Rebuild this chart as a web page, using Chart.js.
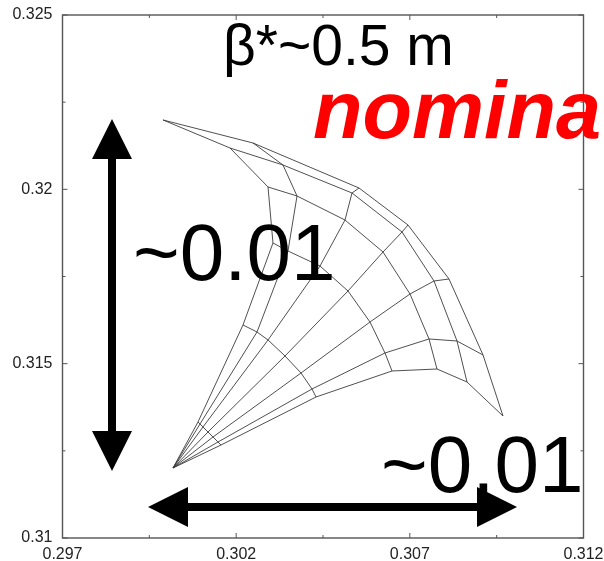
<!DOCTYPE html>
<html>
<head>
<meta charset="utf-8">
<style>html,body{margin:0;padding:0;background:#fff}canvas{display:block}</style>
<script src="https://cdn.jsdelivr.net/npm/chart.js@4"></script>
</head>
<body>
<canvas id="c" width="604" height="561"></canvas>
<script>
// Tick values and labels
const xTickValues = [0.297, 0.2995, 0.302, 0.3045, 0.307, 0.3095, 0.312];
const xTickLabels = ['0.297', '', '0.302', '', '0.307', '', '0.312'];
const yTickValues = [0.31, 0.3125, 0.315, 0.3175, 0.32, 0.3225, 0.325];
const yTickLabels = ['0.31', '', '0.315', '', '0.32', '', '0.325'];

// Mesh: each row is one ray from the common corner, each column one ring
const ray0X = [0.300181, 0.300901, 0.302197, 0.30306, 0.302917, 0.301822, 0.299893];
const ray0Y = [0.312008, 0.313327, 0.316109, 0.318461, 0.320067, 0.321186, 0.321989];
const ray1X = [0.300181, 0.300959, 0.3026, 0.303492, 0.303752, 0.303348, 0.302485];
const ray1Y = [0.312008, 0.31327, 0.315908, 0.318231, 0.319809, 0.320698, 0.321329];
const ray2X = [0.300181, 0.301045, 0.302917, 0.304414, 0.305133, 0.305335, 0.305537];
const ray2Y = [0.312008, 0.313184, 0.315679, 0.317801, 0.31912, 0.319895, 0.320038];
const ray3X = [0.300181, 0.301189, 0.303406, 0.30522, 0.306228, 0.306775, 0.306947];
const ray3Y = [0.312008, 0.31304, 0.31522, 0.317084, 0.318203, 0.318776, 0.318977];
const ray4X = [0.300181, 0.301333, 0.303867, 0.305853, 0.307005, 0.307696, 0.308128];
const ray4Y = [0.312008, 0.312897, 0.314732, 0.316195, 0.316998, 0.317371, 0.317428];
const ray5X = [0.300181, 0.301477, 0.304183, 0.306285, 0.307552, 0.308358, 0.309107];
const ray5Y = [0.312008, 0.312753, 0.314273, 0.315306, 0.315708, 0.31565, 0.315249];
const ray6X = [0.300181, 0.301563, 0.304299, 0.306487, 0.307782, 0.308646, 0.309682];
const ray6Y = [0.312008, 0.312667, 0.314044, 0.31479, 0.314847, 0.314474, 0.313499];

// Double arrows
const vArrowShaftX = [0.298425, 0.298425];
const vArrowShaftY = [0.32087, 0.313069];
const vHeadTopX = [0.298425, 0.297849, 0.299001, 0.298425];
const vHeadTopY = [0.322017, 0.32087, 0.32087, 0.322017];
const vHeadBottomX = [0.298425, 0.297849, 0.299001, 0.298425];
const vHeadBottomY = [0.311922, 0.313069, 0.313069, 0.311922];
const hArrowShaftX = [0.300613, 0.308934];
const hArrowShaftY = [0.310889, 0.310889];
const hHeadLeftX = [0.299462, 0.300613, 0.300613, 0.299462];
const hHeadLeftY = [0.310889, 0.311463, 0.310315, 0.310889];
const hHeadRightX = [0.310086, 0.308934, 0.308934, 0.310086];
const hHeadRightY = [0.310889, 0.311463, 0.310315, 0.310889];

// Annotations
const titleText = 'β*~0.5 m';
const caseText = 'nomina';
const sizeText = '~0.01';

const zip = (xs, ys) => xs.map((x, i) => ({x, y: ys[i]}));
const raysX = [ray0X, ray1X, ray2X, ray3X, ray4X, ray5X, ray6X];
const raysY = [ray0Y, ray1Y, ray2Y, ray3Y, ray4Y, ray5Y, ray6Y];

const meshStyle = {showLine: true, pointRadius: 0, borderColor: '#3c3c3c', borderWidth: 0.9, tension: 0, fill: false};
const datasets = [];
raysX.forEach((xs, i) => datasets.push({...meshStyle, label: 'ray ' + i, data: zip(xs, raysY[i])}));
for (let r = 1; r < ray0X.length; r++) {
  datasets.push({...meshStyle, label: 'ring ' + r, data: raysX.map((xs, i) => ({x: xs[r], y: raysY[i][r]}))});
}
const shaft = {showLine: true, pointRadius: 0, borderColor: '#000', borderWidth: 8, borderCapStyle: 'butt', fill: false};
const head = {showLine: true, pointRadius: 0, borderColor: '#000', borderWidth: 0, backgroundColor: '#000', fill: 'shape', tension: 0};
datasets.push({...shaft, label: 'v shaft', data: zip(vArrowShaftX, vArrowShaftY)});
datasets.push({...shaft, label: 'h shaft', data: zip(hArrowShaftX, hArrowShaftY)});
datasets.push({...head, label: 'v top', data: zip(vHeadTopX, vHeadTopY)});
datasets.push({...head, label: 'v bottom', data: zip(vHeadBottomX, vHeadBottomY)});
datasets.push({...head, label: 'h left', data: zip(hHeadLeftX, hHeadLeftY)});
datasets.push({...head, label: 'h right', data: zip(hHeadRightX, hHeadRightY)});

const frameColor = '#555';
const framePlugin = {
  id: 'frame',
  beforeDatasetsDraw(chart) {
    const {ctx, chartArea: a, scales: {x, y}} = chart;
    ctx.save();
    ctx.strokeStyle = frameColor;
    ctx.lineWidth = 1.4;
    ctx.strokeRect(a.left, a.top, a.right - a.left, a.bottom - a.top);
    ctx.lineWidth = 1;
    ctx.beginPath();
    xTickValues.forEach((v, i) => {
      const px = x.getPixelForValue(v), len = xTickLabels[i] ? 5 : 3;
      ctx.moveTo(px, a.bottom); ctx.lineTo(px, a.bottom - len);
      ctx.moveTo(px, a.top); ctx.lineTo(px, a.top + len);
    });
    yTickValues.forEach((v, i) => {
      const py = y.getPixelForValue(v), len = yTickLabels[i] ? 5 : 3;
      ctx.moveTo(a.left, py); ctx.lineTo(a.left + len, py);
      ctx.moveTo(a.right, py); ctx.lineTo(a.right - len, py);
    });
    ctx.stroke();
    ctx.restore();
  }
};
const textPlugin = {
  id: 'annotationText',
  afterDatasetsDraw(chart) {
    const {ctx} = chart;
    ctx.save();
    ctx.textBaseline = 'alphabetic';
    ctx.textAlign = 'left';
    ctx.fillStyle = '#000';
    ctx.font = '57px "Liberation Sans"';
    ctx.fillText(titleText, 223, 65);
    ctx.font = '80px "Liberation Sans"';
    ctx.fillText(sizeText, 133, 280);
    ctx.fillText(sizeText, 381, 492);
    ctx.fillStyle = '#ff0000';
    ctx.font = 'italic bold 81px "Liberation Sans"';
    ctx.fillText(caseText, 313, 138);
    ctx.restore();
  }
};
const noAxisPadding = s => { s.paddingLeft = s.paddingRight = s.paddingTop = s.paddingBottom = 0; };

new Chart(document.getElementById('c'), {
  type: 'scatter',
  data: {datasets},
  plugins: [framePlugin, textPlugin],
  options: {
    responsive: false,
    animation: false,
    layout: {autoPadding: false, padding: {top: 15, right: 20.5, left: 0, bottom: 0}},
    plugins: {legend: {display: false}, tooltip: {enabled: false}, title: {display: false}},
    scales: {
      x: {
        type: 'linear', min: 0.297, max: 0.312,
        grid: {display: false, drawTicks: false},
        border: {display: false},
        afterBuildTicks(s) { s.ticks = xTickValues.map(value => ({value})); },
        afterFit(s) { s.height = 23; noAxisPadding(s); },
        ticks: {
          autoSkip: false, maxRotation: 0, minRotation: 0, padding: 7, color: '#222',
          font: {family: '"Liberation Sans"', size: 16},
          callback: v => xTickLabels[xTickValues.indexOf(v)]
        }
      },
      y: {
        type: 'linear', min: 0.31, max: 0.325,
        grid: {display: false, drawTicks: false},
        border: {display: false},
        afterBuildTicks(s) { s.ticks = yTickValues.map(value => ({value})); },
        afterFit(s) { s.width = 62.5; noAxisPadding(s); },
        ticks: {
          autoSkip: false, maxRotation: 0, minRotation: 0, padding: 10, color: '#222',
          font: {family: '"Liberation Sans"', size: 16},
          callback: v => yTickLabels[yTickValues.indexOf(v)]
        }
      }
    }
  }
});
</script>
</body>
</html>
